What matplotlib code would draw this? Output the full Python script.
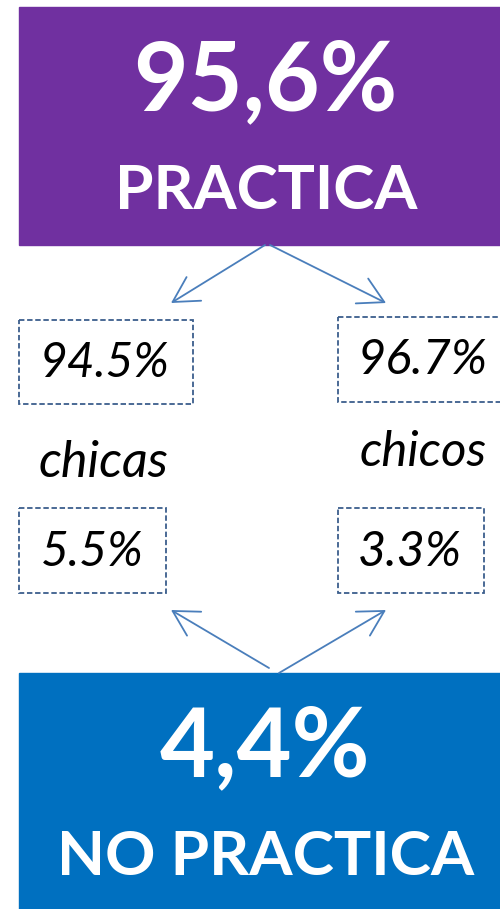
import matplotlib
matplotlib.use("Agg")
import matplotlib.pyplot as plt
from matplotlib.patches import Rectangle, FancyArrowPatch

# Data
totals = ["95,6%", "4,4%"]
total_labels = ["PRACTICA", "NO PRACTICA"]
groups = ["chicas", "chicos"]
practica = ["94.5%", "96.7%"]
no_practica = ["5.5%", "3.3%"]

purple = "#7030A0"
blue = "#0070C0"
arrow_col = "#4A7EBB"
dash_col = "#3B5E8C"

plt.rcParams["font.family"] = ["Lato", "DejaVu Sans"]

fig = plt.figure(figsize=(5, 9.09), dpi=100)
ax = fig.add_axes([0, 0, 1, 1])
ax.set_xlim(0, 500)
ax.set_ylim(909, 0)
ax.axis("off")

fig.canvas.draw()
renderer = fig.canvas.get_renderer()


def fit_text(x, y, s, width, **kw):
    # draw text and scale font so it spans the given pixel width
    t = ax.text(x, y, s, ha="center", va="center", fontsize=40, **kw)
    w = t.get_window_extent(renderer).width
    t.set_fontsize(40 * width / w)
    return t


# big boxes
ax.add_patch(Rectangle((19, 7), 490, 238, color=purple, zorder=1))
ax.add_patch(Rectangle((19, 673), 490, 240, color=blue, zorder=1))

fit_text(265, 83, totals[0], 264, color="white", fontweight="bold", zorder=3)
fit_text(266, 191, total_labels[0], 302, color="white", fontweight="bold", zorder=3)
fit_text(265, 749, totals[1], 210, color="white", fontweight="bold", zorder=3)
fit_text(266, 857, total_labels[1], 417, color="white", fontweight="bold", zorder=3)

# dashed boxes with values
top_boxes = [(19, 320, 174, 84), (338, 317, 170, 85)]
bot_boxes = [(19, 508, 147, 85), (338, 508, 146, 85)]
top_txt = [(105, 363, 130), (423, 360, 130)]
bot_txt = [(92, 552, 103), (410, 552, 104)]

for i in range(2):
    for (bx, by, bw, bh) in [top_boxes[i], bot_boxes[i]]:
        ax.add_patch(Rectangle((bx, by), bw, bh, fill=False, edgecolor=dash_col,
                               linewidth=1.3, linestyle=(0, (3, 1.5)), zorder=2))
    x, y, w = top_txt[i]
    fit_text(x, y, practica[i], w, style="italic", color="black")
    x, y, w = bot_txt[i]
    fit_text(x, y, no_practica[i], w, style="italic", color="black")

fit_text(103, 463, groups[0], 130, style="italic", color="black")
fit_text(423, 452, groups[1], 127, style="italic", color="black")

# arrows
arrows = [((265, 245), (171, 303)), ((270, 245), (386, 303)),
          ((269, 668), (171, 610)), ((279, 673), (386, 610))]
for start, end in arrows:
    ax.add_patch(FancyArrowPatch(start, end, arrowstyle="->,head_length=9,head_width=5",
                                 mutation_scale=2, color=arrow_col, linewidth=1.3,
                                 shrinkA=0, shrinkB=0, zorder=4))

fig.savefig("out.png", dpi=100)
